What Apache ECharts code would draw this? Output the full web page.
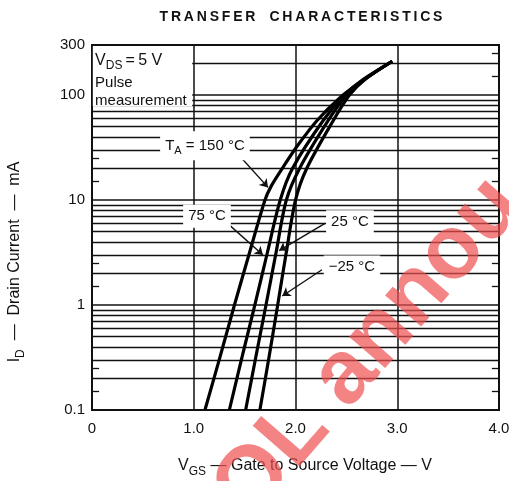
<!DOCTYPE html>
<html>
<head>
<meta charset="utf-8">
<script src="https://cdn.jsdelivr.net/npm/echarts@6/dist/echarts.min.js"></script>
<style>
  html, body { margin: 0; padding: 0; background: #fff; }
  #main { width: 509px; height: 481px; }
</style>
</head>
<body>
<div id="main"></div>
<script>
// curve data (V_GS in volts, I_D in mA)
var idLevels = [0.1, 0.32, 1, 3.2, 10, 20, 57, 100, 140, 210];
var vgs150 = [1.11, 1.25, 1.40, 1.55, 1.70, 1.76, 1.87, 2.01, 2.21, 2.44, 2.65, 2.95];
var id150  = [0.1, 0.3, 1, 3.2, 10, 13.5, 20, 32, 57, 95, 135, 210];
var vgs75  = [1.35, 1.475, 1.60, 1.725, 1.85, 1.97, 2.27, 2.48, 2.66, 2.95];
var vgs25  = [1.51, 1.61, 1.71, 1.81, 1.91, 2.04, 2.32, 2.50, 2.67, 2.95];
var vgsM25 = [1.65, 1.74, 1.825, 1.91, 2.00, 2.11, 2.37, 2.53, 2.68, 2.95];

// axis ticks and grid
var xTicks = ['0', '1.0', '2.0', '3.0', '4.0'];
var yMinorLines = [0.2, 0.3, 0.4, 0.5, 0.6, 0.7, 0.8, 0.9, 2, 3, 4, 5, 6, 7, 8, 9, 20, 30, 40, 50, 60, 70, 80, 90, 200];
var yShortTicks = [0.15, 0.25, 1.5, 2.5, 15, 25, 150, 250];

var FONT = '"Liberation Sans", Arial, sans-serif';

function zip(xs, ys) {
    return xs.map(function (x, i) { return [x, ys[i]]; });
}

var chart = echarts.init(document.getElementById('main'), null, { renderer: 'canvas' });

var gridLines = yMinorLines.map(function (v) { return { yAxis: v }; });
yShortTicks.forEach(function (v) {
    gridLines.push([{ coord: [0, v] }, { coord: [0.07, v] }]);
    gridLines.push([{ coord: [3.93, v] }, { coord: [4, v] }]);
});

var curveStyle = { color: '#000', width: 3.2 };

function curve(name, xs, ys) {
    return {
        name: name,
        type: 'line',
        z: 4,
        smooth: 0.3,
        symbol: 'none',
        silent: true,
        lineStyle: curveStyle,
        data: zip(xs, ys)
    };
}

var subRich = {
    v: { fontSize: 16, fontFamily: FONT, color: '#111' },
    sub: { fontSize: 12, fontFamily: FONT, color: '#111', verticalAlign: 'bottom', lineHeight: 22 }
};
var nameRich = {
    v: { fontSize: 16, fontFamily: FONT, fill: '#111' },
    sub: { fontSize: 12, fontFamily: FONT, fill: '#111', verticalAlign: 'bottom', lineHeight: 24 }
};

function tag(text, coord) {
    return {
        coord: coord,
        symbol: 'rect',
        symbolSize: 0,
        label: {
            show: true,
            position: 'inside',
            formatter: text,
            fontFamily: FONT,
            fontSize: 15,
            color: '#111',
            backgroundColor: '#fff',
            padding: [4, 5, 4, 5],
            rich: {
                sub: { fontSize: 11, fontFamily: FONT, color: '#111', verticalAlign: 'bottom', lineHeight: 21 }
            }
        }
    };
}

function arrow(from, to) {
    return [{ coord: from }, { coord: to }];
}

var option = {
    animation: false,
    backgroundColor: '#fff',
    textStyle: { fontFamily: FONT },
    graphic: [
        {
            type: 'text',
            x: 301,
            y: 10,
            style: {
                text: 'T\u2009R\u2009A\u2009N\u2009S\u2009F\u2009E\u2009R\u2003C\u2009H\u2009A\u2009R\u2009A\u2009C\u2009T\u2009E\u2009R\u2009I\u2009S\u2009T\u2009I\u2009C\u2009S',
                font: 'bold 14px ' + FONT,
                fill: '#111',
                textAlign: 'center'
            }
        },
        {
            // x axis title
            type: 'text',
            x: 305,
            y: 466,
            style: {
                text: '{v|V}{sub|GS}{v| \u2014 Gate to Source Voltage \u2014 V}',
                rich: nameRich,
                textAlign: 'center',
                textVerticalAlign: 'middle'
            }
        },
        {
            // y axis title
            type: 'text',
            x: 15,
            y: 262,
            rotation: Math.PI / 2,
            style: {
                text: '{v|I}{sub|D}{v|  \u2014  Drain Current  \u2014  mA}',
                rich: nameRich,
                textAlign: 'center',
                textVerticalAlign: 'middle'
            }
        },
        {
            type: 'text',
            z: 100,
            x: 197,
            y: 478,
            rotation: 49 * Math.PI / 180,
            silent: true,
            style: {
                text: 'OL annou',
                font: 'bold 90px ' + FONT,
                fill: 'rgba(240, 80, 80, 0.7)',
                textBaseline: 'alphabetic'
            }
        }
    ],
    grid: {
        left: 92, right: 10, top: 45, bottom: 71,
        outerBoundsMode: 'none',
        containLabel: false,
        show: true,
        borderColor: '#111',
        borderWidth: 2
    },
    xAxis: {
        type: 'value',
        min: 0, max: 4, interval: 1,
        axisLine: { lineStyle: { color: '#111', width: 2 } },
        axisTick: { show: false },
        axisLabel: {
            fontSize: 15, color: '#111', margin: 11,
            formatter: function (v) { return xTicks[Math.round(v)]; }
        },
        splitLine: { show: true, lineStyle: { color: '#111', width: 1.5 } }
    },
    yAxis: {
        type: 'log',
        logBase: 10,
        min: 0.1, max: 300,
        axisLine: { lineStyle: { color: '#111', width: 2 } },
        axisTick: { show: false },
        axisLabel: {
            fontSize: 15, color: '#111', margin: 7,
            formatter: function (v) { return v < 0.5 ? '0.1' : String(Math.round(v)); }
        },
        splitLine: { show: true, lineStyle: { color: '#111', width: 1.5 } }
    },
    series: [
        {
            // minor log grid lines and edge ticks
            type: 'line',
            data: [],
            silent: true,
            markLine: {
                z: 2,
                silent: true,
                symbol: 'none',
                animation: false,
                label: { show: false },
                lineStyle: { color: '#111', width: 1.3, type: 'solid' },
                data: gridLines
            }
        },
        {
            // white box behind the test condition note
            type: 'line',
            data: [],
            silent: true,
            markArea: {
                z: 3,
                silent: true,
                itemStyle: { color: '#fff', opacity: 1, borderWidth: 0 },
                data: [[{ coord: [0.008, 78] }, { coord: [0.985, 290] }]]
            }
        },
        curve('150', vgs150, id150),
        curve('75', vgs75, idLevels),
        curve('25', vgs25, idLevels),
        curve('-25', vgsM25, idLevels),
        {
            // temperature labels and leader arrows
            type: 'line',
            data: [],
            silent: true,
            markLine: {
                z: 6,
                silent: true,
                symbol: ['none', 'arrow'],
                symbolSize: 8,
                label: { show: false },
                lineStyle: { color: '#111', width: 1.4, type: 'solid' },
                data: [
                    arrow([1.44, 27], [1.73, 13.2]),
                    arrow([1.34, 5.9], [1.68, 3.0]),
                    arrow([2.29, 6.0], [1.84, 3.3]),
                    arrow([2.26, 2.17], [1.87, 1.22])
                ]
            },
            markPoint: {
                z: 7,
                silent: true,
                data: [
                    tag('T{sub|A} = 150 \u00b0C', [1.11, 33]),
                    tag('75 \u00b0C', [1.13, 7.0]),
                    tag('25 \u00b0C', [2.535, 6.2]),
                    tag('\u221225 \u00b0C', [2.555, 2.3])
                ]
            }
        },
        {
            type: 'line',
            data: [],
            silent: true,
            markPoint: {
                z: 7,
                silent: true,
                symbol: 'rect',
                symbolSize: 0,
                label: { show: true, position: 'right', distance: 0, fontFamily: FONT, fontSize: 15, color: '#111' },
                data: [
                    { coord: [0.03, 211], label: { formatter: '{v|V}{sub|DS}{v|\u2009=\u20095 V}', rich: subRich } },
                    { coord: [0.03, 130], label: { formatter: 'Pulse' } },
                    { coord: [0.03, 88], label: { formatter: 'measurement' } }
                ]
            }
        }
    ]
};

chart.setOption(option);
</script>
</body>
</html>
